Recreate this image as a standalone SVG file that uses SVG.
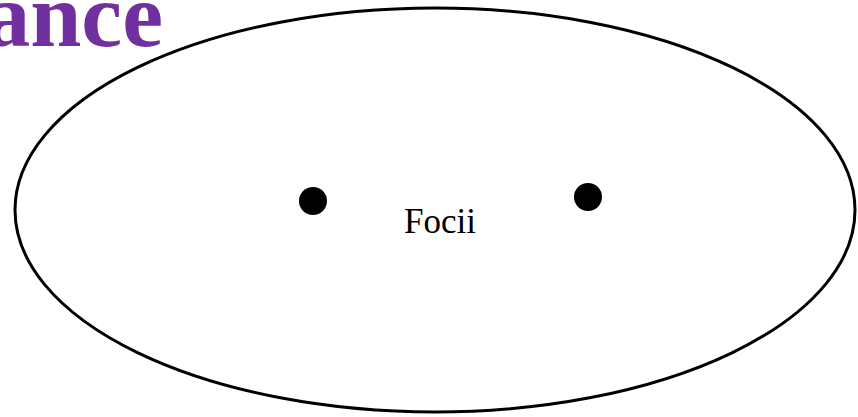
<svg xmlns="http://www.w3.org/2000/svg" width="858" height="417" viewBox="0 0 858 417">
<style>
.title{font-family:"Liberation Serif",serif;font-weight:bold;font-size:92px;fill:#7030A0}
.lbl{font-family:"Liberation Serif",serif;font-size:35px;fill:#000}
.focus{fill:#000}
</style>
<rect width="858" height="417" fill="#fff"/>
<text class="title" x="163" y="46" text-anchor="end">ance</text>
<g id="ellipse"><ellipse cx="435" cy="210" rx="420" ry="202" fill="none" stroke="#000" stroke-width="3"/></g>
<g id="focus1"><circle class="focus" cx="313" cy="201" r="14"/></g>
<g id="focus2"><circle class="focus" cx="588" cy="197" r="14"/></g>
<g id="label"><text class="lbl" x="440" y="233" text-anchor="middle">Focii</text></g>
<g id="connectors"></g>
</svg>
